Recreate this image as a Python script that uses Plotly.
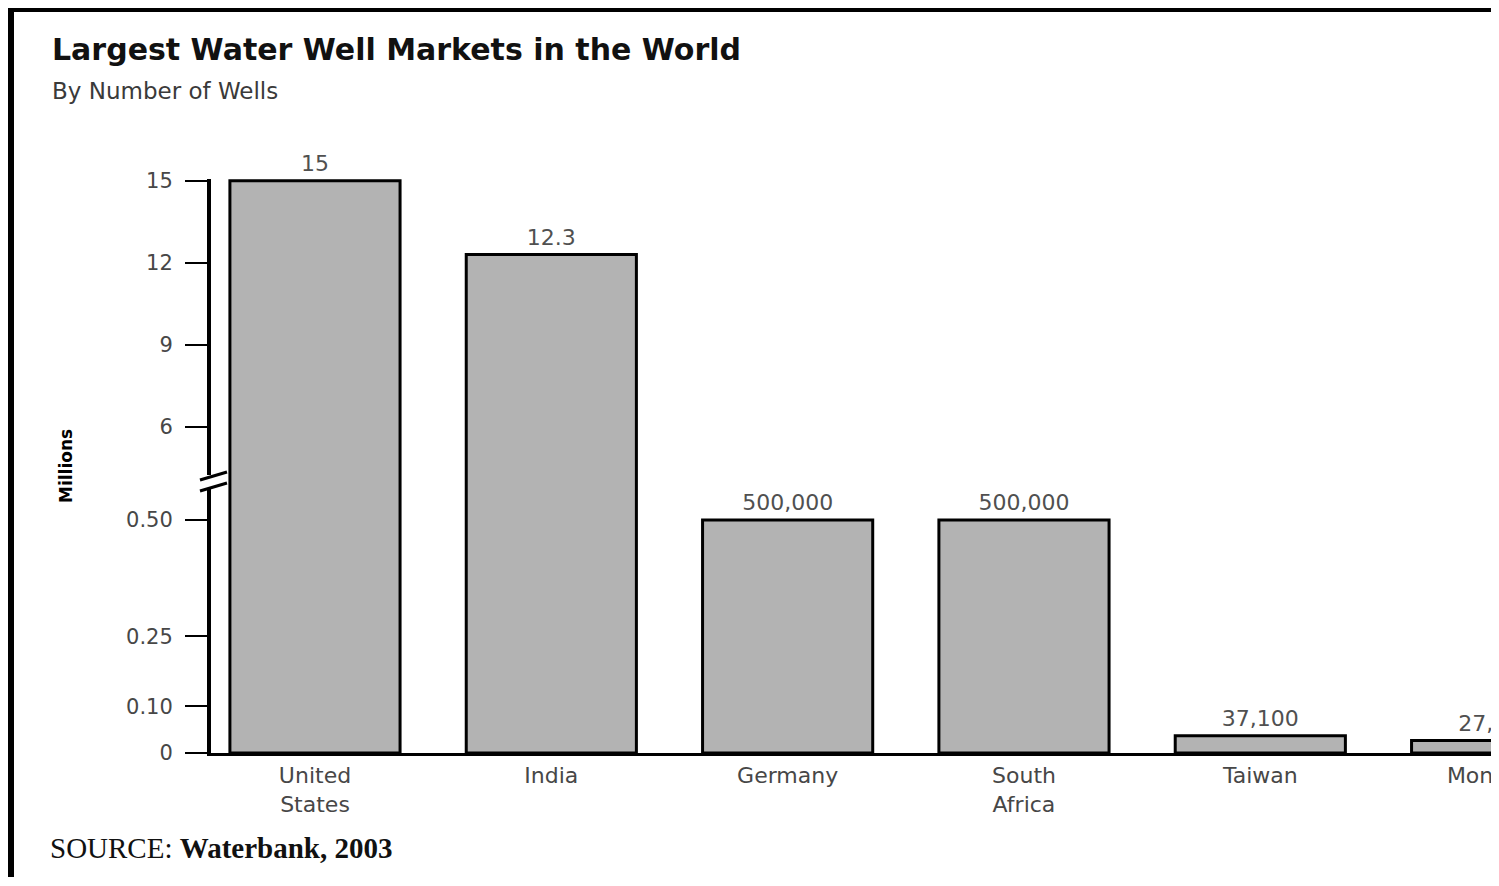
import plotly.graph_objects as go

# ---------------- data ----------------
categories = ["United<br>States", "India", "Germany", "South<br>Africa", "Taiwan", "Mongolia"]
wells_millions = [15, 12.3, 0.5, 0.5, 0.0371, 0.027]
value_labels = ["15", "12.3", "500,000", "500,000", "37,100", "27,000"]
upper_tick_vals = [6, 9, 12, 15]
upper_tick_text = ["6", "9", "12", "15"]
lower_tick_vals = [0, 0.10, 0.25, 0.50]
lower_tick_text = ["0", "0.10", "0.25", "0.50"]
BREAK_AT = 1.0  # values above this are drawn on the upper (broken) segment

# ---------------- layout geometry ----------------
OFF = 8                      # page body margin offset
W, H = 1499 - OFF, 886 - OFF
ML = 211 - OFF
MT = 179 - OFF
MB = H - (753 - OFF)
MR = 0
plot_w = W - ML - MR
plot_h = H - MT - MB


def px_x(px):  # reference-page pixel -> paper x
    return (px - OFF - ML) / plot_w


def px_y(py):  # reference-page pixel -> paper y
    return (H - MB - (py - OFF)) / plot_h


d = px_y(482)  # domain split where the axis break sits

BAR_FILL = "#b3b3b3"
FONT = "DejaVu Sans"
TXT = "#474747"

low_idx = [i for i, v in enumerate(wells_millions) if v < BREAK_AT]
up_idx = [i for i, v in enumerate(wells_millions) if v >= BREAK_AT]

fig = go.Figure()

fig.add_trace(go.Bar(
    x=categories, y=wells_millions, xaxis="x", yaxis="y",
    width=0.72, marker=dict(color=BAR_FILL, line=dict(color="black", width=3)),
    cliponaxis=True, hoverinfo="x+y", showlegend=False,
))
fig.add_trace(go.Bar(
    x=categories, y=[v if v >= BREAK_AT else None for v in wells_millions],
    xaxis="x", yaxis="y2",
    width=0.72, marker=dict(color=BAR_FILL, line=dict(color="black", width=3)),
    cliponaxis=True, hoverinfo="x+y", showlegend=False,
))
label_style = dict(
    mode="markers+text", textposition="top center",
    marker=dict(size=5, color="rgba(0,0,0,0)"),
    textfont=dict(family=FONT, size=22, color="#505050"),
    cliponaxis=False, showlegend=False, hoverinfo="skip",
)
fig.add_trace(go.Scatter(
    x=[categories[i] for i in low_idx], y=[wells_millions[i] for i in low_idx],
    text=[value_labels[i] for i in low_idx], xaxis="x", yaxis="y", **label_style,
))
fig.add_trace(go.Scatter(
    x=[categories[i] for i in up_idx], y=[wells_millions[i] for i in up_idx],
    text=[value_labels[i] for i in up_idx], xaxis="x", yaxis="y2", **label_style,
))

yaxis_common = dict(
    showgrid=False, zeroline=False, showline=True, linecolor="black", linewidth=4,
    ticks="outside", ticklen=22, tickwidth=2, tickcolor="black",
    tickfont=dict(family=FONT, size=21, color=TXT), ticklabelstandoff=8,
    tickmode="array", fixedrange=True, automargin=False,
)

fig.update_layout(
    width=W, height=H,
    margin=dict(l=ML, r=MR, t=MT, b=MB, autoexpand=False),
    paper_bgcolor="white", plot_bgcolor="white",
    barmode="overlay",
    xaxis=dict(
        range=[-0.44, 5.01], showgrid=False, zeroline=False, showline=True,
        linecolor="black", linewidth=3, ticks="", anchor="y",
        tickfont=dict(family=FONT, size=22, color=TXT), ticklabelstandoff=1,
        fixedrange=True, automargin=False,
    ),
    yaxis=dict(domain=[0, d], range=[0, 0.5815], tickvals=lower_tick_vals,
               ticktext=lower_tick_text, anchor="x", **yaxis_common),
    yaxis2=dict(domain=[d, 1], range=[3.974, 15.06], tickvals=upper_tick_vals,
                ticktext=upper_tick_text, anchor="x", **yaxis_common),
    title=dict(
        text="<b>Largest Water Well Markets in the World</b>",
        font=dict(family=FONT, size=30, color="#111111"),
        x=(52 - OFF) / W, xref="container", xanchor="left",
        y=1 - (49 - OFF) / H, yref="container", yanchor="middle",
    ),
    annotations=[
        dict(text="By Number of Wells", xref="paper", yref="paper",
             x=px_x(50), y=px_y(91), xanchor="left", yanchor="middle",
             showarrow=False, font=dict(family=FONT, size=23, color="#3a3a3a")),
        dict(text="<b>Millions</b>", xref="paper", yref="paper",
             x=px_x(66), y=px_y(466), xanchor="center", yanchor="middle",
             textangle=-90, showarrow=False,
             font=dict(family=FONT, size=17, color="black")),
        dict(text="SOURCE: <b>Waterbank, 2003</b>", xref="paper", yref="paper",
             x=px_x(48), y=px_y(848), xanchor="left", yanchor="middle",
             showarrow=False,
             font=dict(family="Liberation Serif", size=29, color="#111111")),
    ],
    shapes=[
        # outer frame (top and left borders)
        dict(type="line", xref="paper", yref="paper", x0=px_x(5), x1=px_x(1510),
             y0=px_y(9.5), y1=px_y(9.5), line=dict(color="black", width=5)),
        dict(type="line", xref="paper", yref="paper", x0=px_x(9.5), x1=px_x(9.5),
             y0=px_y(7), y1=px_y(877), line=dict(color="black", width=9)),
        # axis break marker
        dict(type="rect", xref="paper", yref="paper", x0=px_x(203), x1=px_x(220),
             y0=px_y(488), y1=px_y(475), line=dict(width=0), fillcolor="white"),
        dict(type="line", xref="paper", yref="paper", x0=px_x(200), x1=px_x(227),
             y0=px_y(480), y1=px_y(472), line=dict(color="black", width=3)),
        dict(type="line", xref="paper", yref="paper", x0=px_x(200), x1=px_x(227),
             y0=px_y(491), y1=px_y(483), line=dict(color="black", width=3)),
    ],
)

fig.write_html("out.html")
